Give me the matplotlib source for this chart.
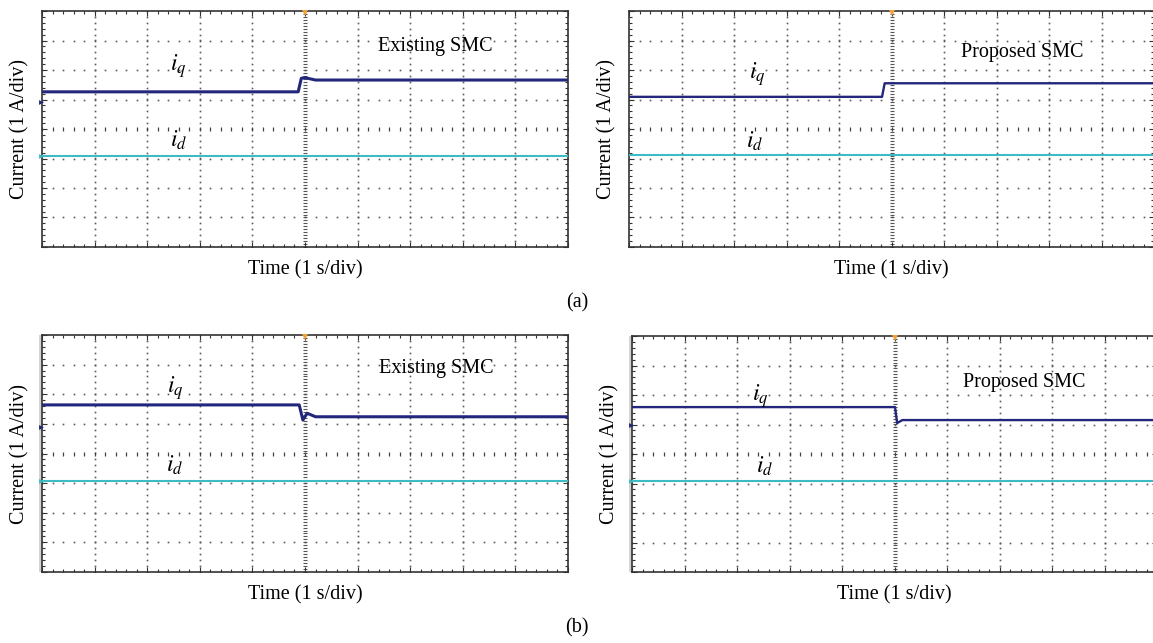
import numpy as np
import matplotlib
matplotlib.use("Agg")
import matplotlib.pyplot as plt
from matplotlib.ticker import MultipleLocator
from matplotlib.patches import Rectangle

plt.rcParams["font.family"] = ["Liberation Serif", "DejaVu Serif"]
plt.rcParams["mathtext.fontset"] = "stix"

# time in s (1 s/div, trigger at 0), current in divisions (1 A/div)
# (a) existing SMC
t_iq_a_ex = [-5, -0.13, -0.07, 0.0, 0.2, 5]
iq_a_ex = [1.26, 1.26, 1.72, 1.74, 1.66, 1.66]
# (a) proposed SMC
t_iq_a_pr = [-5, -0.18, -0.13, 5]
iq_a_pr = [1.09, 1.09, 1.55, 1.55]
# (b) existing SMC
t_iq_b_ex = [-5, -0.11, -0.04, 0.04, 0.2, 5]
iq_b_ex = [1.64, 1.64, 1.13, 1.36, 1.24, 1.24]
# (b) proposed SMC
t_iq_b_pr = [-5, 0.01, 0.05, 0.15, 5]
iq_b_pr = [1.59, 1.59, 1.05, 1.15, 1.15]

t_id = [-5, 5]
id_a_ex = [-0.9, -0.9]
id_a_pr = [-0.89, -0.89]
id_b_ex = [-0.93, -0.93]
id_b_pr = [-0.92, -0.92]

titles = ["Existing SMC", "Proposed SMC", "Existing SMC", "Proposed SMC"]

IQ_COLOR = "#23277c"
ID_COLOR = "#3dbcc5"
GRID_COLOR = "#5a5a5a"

W, H = 1153, 643
fig = plt.figure(figsize=(W / 100, H / 100), dpi=100)


def px_axes(left, top, right, bottom):
    return fig.add_axes([left / W, 1 - bottom / H, (right - left) / W, (bottom - top) / H])


def draw_panel(ax, t_iq, iq, id_vals, title, title_xy, iq_xy, id_xy,
               iq_lw, ch_marks, strip):
    ax.set_xlim(-5, 5)
    ax.set_ylim(-4, 4)

    # graticule: dotted divisions
    sub_y = np.arange(-4, 4.01, 0.2)
    sub_x = np.arange(-5, 5.01, 0.2)
    for gx in range(-4, 5):
        if gx == 0:
            continue
        ax.plot(np.full_like(sub_y, gx), sub_y, ls="none", marker="s", ms=1.2,
                mew=0, color=GRID_COLOR, zorder=1)
    for gy in range(-3, 4):
        if gy == 0:
            continue
        ax.plot(sub_x, np.full_like(sub_x, gy), ls="none", marker="s", ms=1.2,
                mew=0, color=GRID_COLOR, zorder=1)
    # centre cross with fine ticks
    fine_y = np.arange(-4, 4.01, 0.1)
    ax.plot(np.zeros_like(fine_y), fine_y, ls="none", marker="_", ms=3,
            mew=0.8, color="#555555", zorder=1)
    ax.plot(sub_x, np.zeros_like(sub_x), ls="none", marker="|", ms=3.5,
            mew=0.9, color="#444444", zorder=1)

    # traces
    ax.plot(t_id, id_vals, color=ID_COLOR, lw=1.5, zorder=3)
    ax.plot(t_iq, iq, color=IQ_COLOR, lw=iq_lw, zorder=4)

    # trigger marker and channel markers
    ax.plot([0], [3.92], marker="v", ms=5, color="#f2a23a", mew=0,
            clip_on=False, zorder=5)
    for lvl, col in ch_marks:
        ax.plot([-5.02], [lvl], marker=">", ms=3.5, color=col, mew=0,
                clip_on=False, zorder=5)
    if strip:
        ax.add_patch(Rectangle((-0.006, 0), 0.006, 1, transform=ax.transAxes,
                               color="#d4d4d4", clip_on=False, lw=0))

    ax.xaxis.set_major_locator(MultipleLocator(1))
    ax.xaxis.set_minor_locator(MultipleLocator(0.2))
    ax.yaxis.set_major_locator(MultipleLocator(1))
    ax.yaxis.set_minor_locator(MultipleLocator(0.2))
    ax.tick_params(which="both", direction="in", top=True, right=True,
                   labelbottom=False, labelleft=False, color="#333333",
                   width=0.8)
    ax.tick_params(which="major", length=3.5)
    ax.tick_params(which="minor", length=2.5)
    for sp in ax.spines.values():
        sp.set_color("#333333")
        sp.set_linewidth(1.2)

    ax.text(*title_xy, title, fontsize=14.5, ha="center", va="center", zorder=6)
    ax.text(*iq_xy, r"$i_q$", fontsize=17, ha="center", va="center", zorder=6)
    ax.text(*id_xy, r"$i_d$", fontsize=17, ha="center", va="center", zorder=6)

    ax.text(-22 / 526, 0.5, "Current (1 A/div)", rotation=90, fontsize=14.5,
            ha="center", va="center", transform=ax.transAxes)
    ax.text(0.5, -23 / 236, "Time (1 s/div)", fontsize=14.5,
            ha="center", va="center", transform=ax.transAxes)


ax1 = px_axes(42, 11, 568, 247)
draw_panel(ax1, t_iq_a_ex, iq_a_ex, id_a_ex, titles[0], (2.47, 2.78),
           (-2.41, 2.14), (-2.41, -0.37), 2.2,
           [(0.92, IQ_COLOR), (-0.9, ID_COLOR)], False)

ax2 = px_axes(629, 11, 1154, 247)
draw_panel(ax2, t_iq_a_pr, iq_a_pr, id_a_pr, titles[1], (2.49, 2.61),
           (-2.56, 1.86), (-2.6, -0.41), 1.7, [], False)

ax3 = px_axes(42, 335, 568, 572)
draw_panel(ax3, t_iq_b_ex, iq_b_ex, id_b_ex, titles[2], (2.49, 2.88),
           (-2.47, 2.21), (-2.47, -0.39), 2.2,
           [(0.89, IQ_COLOR), (-0.93, ID_COLOR)], True)

ax4 = px_axes(632, 336, 1157, 572)
draw_panel(ax4, t_iq_b_pr, iq_b_pr, id_b_pr, titles[3], (2.47, 2.41),
           (-2.56, 1.97), (-2.47, -0.41), 1.7,
           [(0.98, IQ_COLOR), (-0.92, ID_COLOR)], True)

fig.text(577 / W, 1 - 303 / H, "(a)", fontsize=14.5, ha="center", va="center")
fig.text(577 / W, 1 - 628 / H, "(b)", fontsize=14.5, ha="center", va="center")

fig.savefig("out.png", dpi=100)
